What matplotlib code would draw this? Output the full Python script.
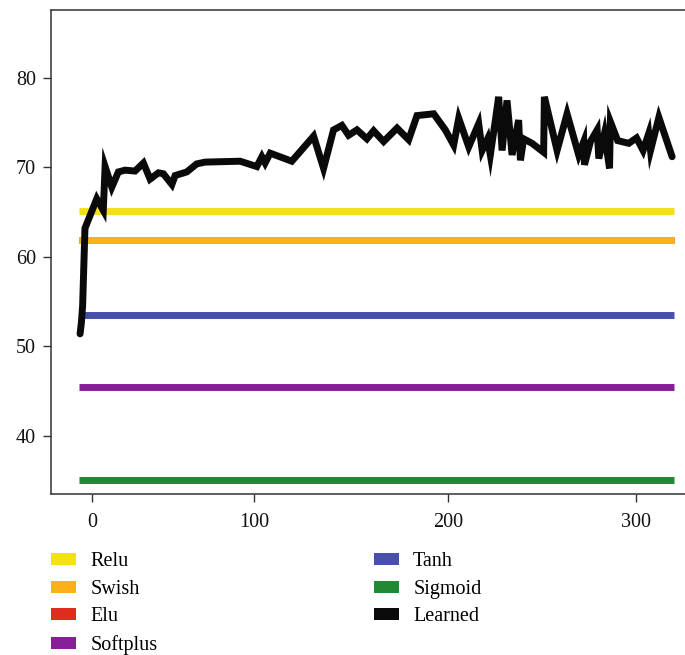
import matplotlib
matplotlib.use("Agg")
import matplotlib.pyplot as plt
from matplotlib.patches import Patch

plt.rcParams["font.family"] = ["Liberation Serif", "DejaVu Serif"]

# Constant baselines (accuracy of fixed activations)
names = ["Relu", "Swish", "Elu", "Softplus", "Tanh", "Sigmoid", "Learned"]
colors = ["#F3E114", "#FBB117", "#DE2D1F", "#881E96", "#4850AA", "#228833", "#0A0A0A"]
baseline = {"Relu": 65.1, "Swish": 61.9, "Elu": 61.9, "Softplus": 45.5,
            "Tanh": 53.5, "Sigmoid": 35.1}

# Learned activation curve
learned_x = [-6.6, -5.9, -5.2, -3.9, 2.6, 6.2, 7.2, 10.9, 14.5, 18.2, 23.7, 28.3, 32.0,
             36.6, 39.3, 44.0, 45.8, 52.2, 57.7, 62.3, 81.6, 90.8, 93.6, 95.4, 98.2,
             110.1, 122.1, 127.6, 133.1, 137.7, 141.4, 146.0, 151.5, 155.2, 160.7,
             168.1, 174.5, 179.1, 188.3, 194.7, 199.3, 202.1, 207.6, 213.1, 215.0,
             218.0, 219.5, 222.3, 224.1, 226.0, 228.7, 231.5, 235.1, 236.1, 237.9,
             242.5, 248.9, 249.3, 256.3, 261.8, 268.2, 271.0, 271.4, 274.7, 278.4,
             279.3, 282.4, 285.2, 285.7, 289.7, 295.8, 300.1, 303.7, 306.8, 307.8,
             312.4, 319.7]
learned_y = [51.4, 52.6, 54.5, 63.2, 66.5, 65.2, 70.1, 67.8, 69.5, 69.7, 69.6, 70.5, 68.7,
             69.4, 69.3, 68.1, 69.1, 69.5, 70.4, 70.6, 70.7, 70.1, 71.2, 70.5, 71.6,
             70.7, 73.5, 69.9, 74.2, 74.7, 73.6, 74.2, 73.2, 74.1, 72.9,
             74.4, 73.1, 75.8, 76.0, 74.2, 72.5, 75.5, 72.3, 74.9, 71.9,
             73.2, 71.4, 75.3, 77.9, 71.9, 77.5, 71.4, 75.3, 70.8, 73.2,
             72.7, 71.7, 77.9, 71.9, 76.0, 71.4, 72.9, 70.3, 72.9, 74.2,
             71.0, 73.8, 69.9, 75.1, 73.0, 72.7, 73.3, 71.9, 73.8, 71.9,
             75.6, 71.2]

x_start, x_end = -7.2, 321.0
tick_labels = ["0", "100", "200", "300"]
tick_pos = [0, 89.4, 196.2, 300]
y_ticks = [40, 50, 60, 70, 80]

fig = plt.figure(figsize=(6.85, 6.55), dpi=100)
ax = fig.add_axes([0.0745, 0.2458, 0.93, 0.7389])

lw = 5.0
for name, c in zip(names, colors):
    if name == "Learned":
        ax.plot(learned_x, learned_y, color=c, lw=lw, solid_joinstyle="miter",
                solid_capstyle="round", zorder=4)
    else:
        z = 1 if name == "Elu" else 2
        ax.hlines(baseline[name], x_start, x_end, color=c, lw=lw, zorder=z)

ax.set_xlim(-22.6, 328.5)
ax.set_ylim(33.5, 87.6)
ax.set_xticks(tick_pos)
ax.set_xticklabels(tick_labels)
ax.set_yticks(y_ticks)

for s in ax.spines.values():
    s.set_color("#333333")
    s.set_linewidth(1.1)
ax.tick_params(axis="both", direction="out", length=6, width=1.0, color="#333333",
               labelsize=14.5, labelcolor="#111111")
ax.tick_params(axis="x", pad=8)
ax.tick_params(axis="y", pad=5)

handles = [Patch(facecolor=c, edgecolor="none", label=n) for n, c in zip(names, colors)]
fig.legend(handles=handles, ncol=2, loc="upper left", bbox_to_anchor=(0.075, 0.157),
           frameon=False, fontsize=14.5, handlelength=1.24, handleheight=0.52,
           handletextpad=0.7, labelspacing=0.43, columnspacing=10.75, borderpad=0,
           borderaxespad=0)

fig.savefig("out.png", dpi=100)
